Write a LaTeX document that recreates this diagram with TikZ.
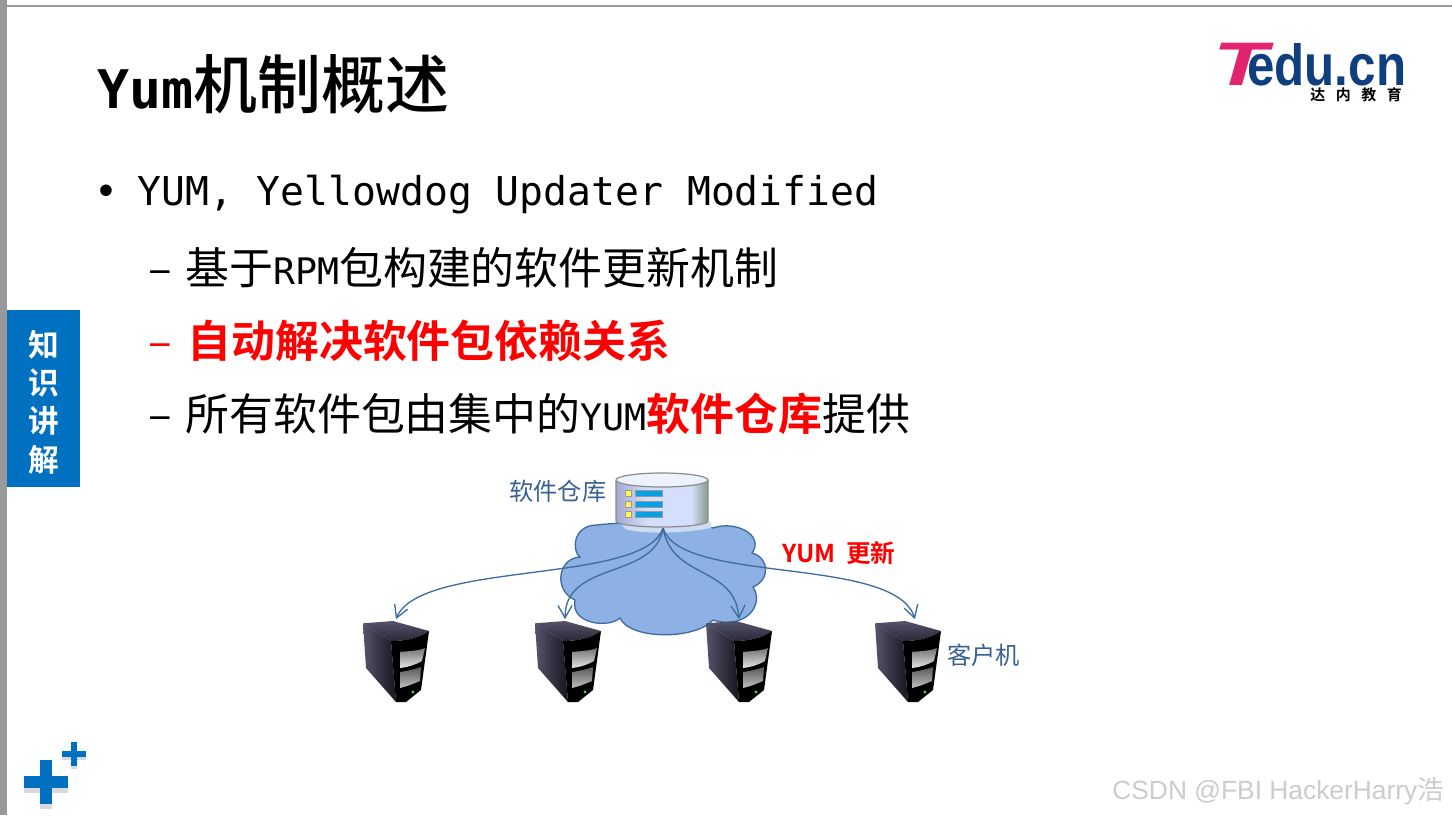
\documentclass[tikz,border=0pt]{standalone}
\usepackage{fontspec}
\usepackage{graphicx}
\usetikzlibrary{arrows.meta,calc,positioning}
\setmainfont[BoldFont={Noto Sans CJK SC Medium}]{Noto Sans CJK SC}
\newfontfamily\heavyfnt{Noto Sans CJK SC Bold}
\newfontfamily\monofnt{DejaVu Sans Mono}
\newfontfamily\logofnt{Liberation Sans}
\definecolor{tabblue}{HTML}{0070C0}
\definecolor{linkblue}{HTML}{3F6C9E}
\definecolor{labelblue}{HTML}{3A6291}
\definecolor{cloudfill}{HTML}{8DB1E4}
\definecolor{logopink}{HTML}{E2246F}
\definecolor{logonavy}{HTML}{0F3F7F}
\definecolor{dbleft}{HTML}{A4A8D2}
\definecolor{dbmid}{HTML}{D3DFFB}
\definecolor{dbright}{HTML}{84998A}
\definecolor{srvlight}{HTML}{55546C}
\definecolor{srvdark}{HTML}{16151E}
\pgfdeclarehorizontalshading{dbshade}{100bp}{color(0bp)=(dbleft); color(25bp)=(dbleft); color(42bp)=(dbmid); color(66bp)=(dbmid); color(75bp)=(dbright); color(100bp)=(dbright)}
\newcommand{\plusmark}[5]{% centre x, centre y, half length, half thickness, colour
	\fill[#5] (#1-#4,#2-#3) rectangle (#1+#4,#2+#3);
	\fill[#5] (#1-#3,#2-#4) rectangle (#1+#3,#2+#4);
}
\tikzset{
	txt/.style={inner sep=0pt, anchor=base west},
	titletxt/.style={txt, font=\fontsize{36.4}{40}\selectfont\bfseries},
	bodytxt/.style={txt, font=\fontsize{25}{30}\selectfont},
	labeltxt/.style={txt, text=labelblue, font=\fontsize{13.8}{16}\selectfont},
	link/.style={draw=linkblue, line width=0.75pt, -{Straight Barb[length=7pt,width=8pt]}},
	serverbox/.style={inner sep=0pt, minimum width=1.36cm, minimum height=1.66cm},
	pics/server/.style={code={
		\shade[left color=srvlight, right color=srvdark] (0,2.3) -- (28,20) -- (33,81) -- (3,47) -- cycle;
		\shade[top color=srvlight, bottom color=srvdark!70!srvlight] (0,2.3) -- (30,0) -- (66,10) .. controls (55,18) and (40,20) .. (28,20) -- cycle;
		\fill[black] (28,20) .. controls (40,20) and (55,18) .. (66,10) -- (58,69) -- (43,81) -- (33,81) -- cycle;
		\shade[top color=black!55, bottom color=black!10] (37,31) .. controls (45,30) and (55,30) .. (62,27) -- (59,40) .. controls (52,44) and (45,46) .. (37,47) -- cycle;
		\shade[top color=black!65, bottom color=black!25] (37,51) .. controls (45,50) and (52,48) .. (58,46) -- (57,60) .. controls (50,63) and (45,65) .. (37,67) -- cycle;
		\fill[green!60!black!60!white] (50,71) circle (1.6);
	}}
}
\begin{document}
\begin{tikzpicture}[x=0.02cm,y=-0.02cm]
	\useasboundingbox (0,0) rectangle (1452,815);
	\fill[white] (0,0) rectangle (1452,815);
	\fill[black!40] (0,0) rectangle (7,815);
	\fill[black!40] (0,5) rectangle (1452,6.5);

	% title and logo
	\node[titletxt] (title) at (97,108) {{\monofnt\fontsize{30.3}{40}\selectfont Yum}机制概述};
	\node[txt, text=logopink, font=\logofnt\fontsize{35}{36}\selectfont\bfseries\itshape] (logoT) at (1213,85) {\scalebox{1.45}[1]{T}};
	\node[txt, text=logonavy, font=\logofnt\fontsize{33}{36}\selectfont\bfseries] (logoedu) at (1247,85) {\scalebox{0.85}[1]{edu.cn}};
	\node[txt, font=\heavyfnt\fontsize{8.5}{10}\selectfont] (logozh) at (1310,100) {达\hspace{6pt}内\hspace{6pt}教\hspace{6pt}育};

	% bullets
	\node[txt, font=\monofnt\fontsize{22.6}{30}\selectfont] (yumdot) at (94,205) {•};
	\node[txt, font=\monofnt\fontsize{22.6}{30}\selectfont] (yumline) at (137,205) {YUM, Yellowdog Updater Modified};
	\node[bodytxt] (dashA) at (148,284) {–};
	\node[bodytxt] (lineA) at (185,284) {基于{\monofnt\fontsize{20.8}{30}\selectfont RPM}包构建的软件更新机制};
	\node[bodytxt, text=red] (dashB) at (148,357) {–};
	\node[bodytxt, text=red, font=\heavyfnt\fontsize{25}{30}\selectfont] (lineB) at (187,357) {自动解决软件包依赖关系};
	\node[bodytxt] (dashC) at (148,430) {–};
	\node[bodytxt] (lineC) at (185,430) {所有软件包由集中的{\monofnt\fontsize{20.8}{30}\selectfont YUM}\textcolor{red}{\heavyfnt 软件仓库}提供};

	% side tab
	\fill[tabblue] (7,310) rectangle (80,487);
	\node[align=center, inner sep=0pt, text=white, font=\heavyfnt\fontsize{17.5}{21.8}\selectfont] (sidetab) at (44,402) {知\\识\\讲\\解};

	% plus signs
	\plusmark{46}{787}{22}{6}{black!15}
	\plusmark{46}{782}{22}{6}{tabblue}
	\plusmark{74}{757}{12}{3}{black!15}
	\plusmark{74}{754}{12}{3}{tabblue}

	% cloud
	\filldraw[fill=cloudfill, draw=linkblue, line width=0.75pt] (597,525) .. controls (572,525) and (572,552) .. (580,557)
		.. controls (558,558) and (553,590) .. (575,600)
		.. controls (570,625) and (610,628) .. (620,618)
		.. controls (630,640) and (695,640) .. (713,620)
		.. controls (745,630) and (765,605) .. (753,587)
		.. controls (770,580) and (770,558) .. (752,553)
		.. controls (765,535) and (735,520) .. (713,528)
		.. controls (690,520) and (620,522) .. (597,525) -- cycle;
	\fill[cloudfill!45!white] (620,522) -- (711,522) -- (711,528) .. controls (680,534) and (640,534) .. (625,529) -- cycle;

	% repository
	\shade[shading=dbshade] (616,480) -- (616,521) arc[start angle=180, end angle=360, x radius=46, y radius=-6] -- (708,480) -- cycle;
	\draw[black!45, line width=0.7pt] (616,480) -- (616,521) arc[start angle=180, end angle=360, x radius=46, y radius=-6] -- (708,480);
	\filldraw[fill=dbmid!40!white, draw=black!45, line width=0.7pt] (662,480) ellipse (46 and 7);
	\foreach \rowy in {493,504,514} {
		\filldraw[fill=yellow!70!white, draw=black!40, line width=0.4pt] (625,\rowy-3) rectangle (631,\rowy+3);
		\filldraw[fill=cyan!90!blue, draw=black!40, line width=0.4pt] (635,\rowy-3) rectangle (662,\rowy+3);
	}
	\coordinate (hub) at (663,528);

	% clients
	\node[serverbox] (srvA) at (396,661) {};
	\node[serverbox] (srvB) at (568,661) {};
	\node[serverbox] (srvC) at (739,661) {};
	\node[serverbox] (srvD) at (908,661) {};
	\foreach \srvx in {363,535,706,875} {
		\pic at (\srvx,621) {server};
	}

	% update links
	\draw[link] (hub) .. controls (645,585) and (420,560) .. (srvA.north);
	\draw[link] (hub) .. controls (655,580) and (565,560) .. ($(srvB.north)+(-3,0)$);
	\draw[link] (hub) .. controls (672,580) and (735,565) .. (srvC.north);
	\draw[link] (hub) .. controls (680,585) and (895,555) .. ($(srvD.north)+(7,0)$);

	% labels
	\node[labeltxt] (repolabel) at (509,500) {软件仓库};
	\node[txt, text=red, font=\heavyfnt\fontsize{14}{16}\selectfont] (yumlabel) at (782,562) {YUM\hspace{6pt}更新};
	\node[labeltxt] (clientlabel) at (947,664) {客户机};

	% watermark
	\node[txt, text=black!20, font=\logofnt\fontsize{15}{18}\selectfont] (mark) at (1112,799) {CSDN @FBI HackerHarry{\rmfamily 浩}};
\end{tikzpicture}
\end{document}
